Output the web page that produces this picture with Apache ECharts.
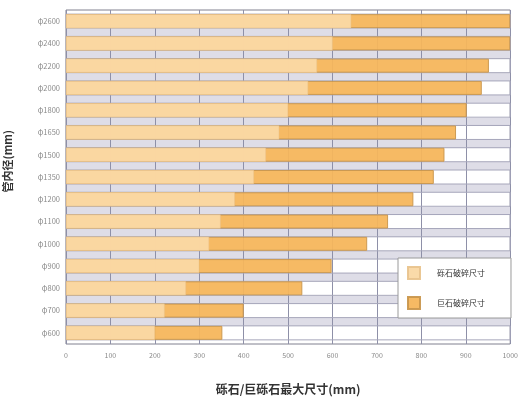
<!DOCTYPE html>
<html><head><meta charset="utf-8">
<script src="https://cdn.jsdelivr.net/npm/echarts@6/dist/echarts.min.js"></script>
<style>html,body{margin:0;padding:0;background:#fff}#c{width:521px;height:401px}</style>
</head><body><div id="c"></div>
<script>
const categories = ['φ600','φ700','φ800','φ900','φ1000','φ1100','φ1200','φ1350','φ1500','φ1650','φ1800','φ2000','φ2200','φ2400','φ2600'];
const gravelMax = [200,222,270,300,322,348,380,423,450,480,500,545,565,600,642];
const boulderMax = [352,400,532,598,678,725,782,828,852,878,902,936,952,1000,1000];
const xTicks = [0,100,200,300,400,500,600,700,800,900,1000];
const legendNames = ['砾石破碎尺寸','巨石破碎尺寸'];

const chart = echarts.init(document.getElementById('c'));
chart.setOption({
  animation:false,
  backgroundColor:'#fff',
  textStyle:{fontFamily:'"Noto Sans CJK SC", "Noto Sans", sans-serif'},
  grid:{left:66,right:4,top:10,bottom:57,show:true,backgroundColor:'#fff',borderColor:'#80808f',borderWidth:1},
  legend:{
    data:legendNames, orient:'vertical', left:398, top:258, icon:'rect',
    itemWidth:12, itemHeight:12, itemGap:16,
    padding:[8,26,8,9], backgroundColor:'#fff', borderColor:'#9a9a9a', borderWidth:1,
    textStyle:{fontSize:8,color:'#333',padding:[0,0,0,12]}
  },
  xAxis:{
    type:'value', min:xTicks[0], max:xTicks[xTicks.length-1], interval:100, z:1,
    name:'砾石/巨砾石最大尺寸(mm)', nameLocation:'middle', nameGap:39,
    nameTextStyle:{fontSize:12,color:'#333',fontWeight:'bold',fontFamily:'"Noto Sans CJK SC", serif'},
    axisLine:{show:false}, axisTick:{show:false},
    axisLabel:{fontSize:7,color:'#8a8a8a',margin:8,formatter:function(v){return String(v);}},
    splitLine:{show:true,lineStyle:{color:'#8e90a8',width:1}}
  },
  yAxis:{
    type:'category', data:categories, z:0,
    axisLine:{show:false}, axisTick:{show:false},
    axisLabel:{fontSize:7.5,color:'#8a8a8a',margin:6},
    splitLine:{show:true,showMinLine:false,showMaxLine:false,interval:0,lineStyle:{color:'#dedde7',width:8}}
  },
  graphic:[{
    type:'text', left:2, top:130, rotation:Math.PI/2,
    style:{text:'管内径(mm)',fontSize:11,fontWeight:'bold',fill:'#333',fontFamily:'"Noto Sans CJK SC"'}
  }],
  series:[
    {name:legendNames[1], type:'bar', data:boulderMax, barWidth:14, z:2,
     showBackground:true, backgroundStyle:{color:'rgba(0,0,0,0)',borderColor:'#a6a6ba',borderWidth:1},
     itemStyle:{color:'#f5b65c',borderColor:'#c9974e',borderWidth:1,opacity:0.95}},
    {name:legendNames[0], type:'bar', data:gravelMax, barWidth:14, barGap:'-100%', z:3,
     itemStyle:{color:'#fad8a4',borderColor:'#e9c48e',borderWidth:0.5,opacity:0.95}}
  ]
});
</script></body></html>
